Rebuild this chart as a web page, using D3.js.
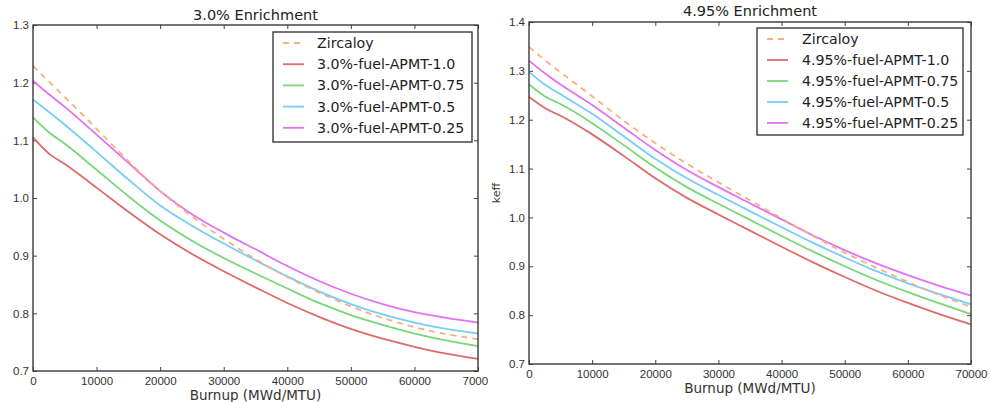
<!DOCTYPE html>
<html>
<head>
<meta charset="utf-8">
<title>keff vs Burnup</title>
<script src="https://cdn.jsdelivr.net/npm/d3@7/dist/d3.min.js"></script>
<style>
  body { margin: 0; background: #fff; }
  svg { display: block; font-family: "DejaVu Sans", sans-serif; }
  .axis text { fill: #333; font-size: 11.5px; }
  .axis line { stroke: #444; }
  .axis path { display: none; }
</style>
</head>
<body>
<script>
// burnup grid (MWd/MTU)
var burnup = [0, 2500, 5000, 10000, 15000, 20000, 25000, 30000, 35000, 40000, 45000, 50000, 55000, 60000, 65000, 70000];

// 3.0% enrichment
var zirc30     = [1.229, 1.202, 1.175, 1.120, 1.064, 1.012, 0.968, 0.929, 0.894, 0.863, 0.836, 0.812, 0.792, 0.776, 0.764, 0.755];
var apmt10_30  = [1.105, 1.077, 1.059, 1.018, 0.976, 0.937, 0.903, 0.873, 0.845, 0.818, 0.794, 0.773, 0.756, 0.742, 0.730, 0.721];
var apmt075_30 = [1.140, 1.114, 1.094, 1.049, 1.003, 0.961, 0.926, 0.896, 0.869, 0.843, 0.818, 0.797, 0.780, 0.765, 0.753, 0.743];
var apmt05_30  = [1.171, 1.149, 1.127, 1.080, 1.032, 0.987, 0.952, 0.921, 0.892, 0.864, 0.838, 0.816, 0.798, 0.784, 0.773, 0.765];
var apmt025_30 = [1.203, 1.180, 1.158, 1.110, 1.061, 1.012, 0.972, 0.940, 0.911, 0.882, 0.856, 0.834, 0.816, 0.802, 0.792, 0.784];

// 4.95% enrichment
var zirc495     = [1.349, 1.322, 1.297, 1.248, 1.198, 1.152, 1.110, 1.072, 1.035, 0.998, 0.962, 0.928, 0.897, 0.868, 0.841, 0.817];
var apmt10_495  = [1.247, 1.224, 1.208, 1.170, 1.126, 1.080, 1.040, 1.006, 0.973, 0.940, 0.908, 0.878, 0.850, 0.825, 0.802, 0.781];
var apmt075_495 = [1.272, 1.248, 1.232, 1.193, 1.148, 1.102, 1.062, 1.028, 0.995, 0.962, 0.930, 0.900, 0.872, 0.847, 0.824, 0.802];
var apmt05_495  = [1.298, 1.272, 1.252, 1.212, 1.166, 1.120, 1.080, 1.046, 1.013, 0.980, 0.948, 0.918, 0.890, 0.865, 0.843, 0.822];
var apmt025_495 = [1.321, 1.295, 1.272, 1.230, 1.184, 1.138, 1.097, 1.062, 1.029, 0.996, 0.963, 0.933, 0.906, 0.882, 0.860, 0.840];

var xTicks = [0, 10000, 20000, 30000, 40000, 50000, 60000, 70000];
var yTicks30 = [0.7, 0.8, 0.9, 1.0, 1.1, 1.2, 1.3];
var yTicks495 = [0.7, 0.8, 0.9, 1.0, 1.1, 1.2, 1.3, 1.4];

var names30 = ["Zircaloy", "3.0%-fuel-APMT-1.0", "3.0%-fuel-APMT-0.75", "3.0%-fuel-APMT-0.5", "3.0%-fuel-APMT-0.25"];
var names495 = ["Zircaloy", "4.95%-fuel-APMT-1.0", "4.95%-fuel-APMT-0.75", "4.95%-fuel-APMT-0.5", "4.95%-fuel-APMT-0.25"];

var colors = ["#f9ae80", "#e06a6a", "#78d878", "#78cdf8", "#e272f2"];
var dashes = ["6,5", null, null, null, null];

var W = 990, H = 402;
var svg = d3.select("body").append("svg").attr("width", W).attr("height", H);
svg.append("rect").attr("width", W).attr("height", H).attr("fill", "#fff");

function panel(o) {
  var g = svg.append("g");
  // white background of the panel image
  g.append("rect").attr("x", o.bgX).attr("y", 0).attr("width", o.bgW).attr("height", H).attr("fill", "#fff");

  var x = d3.scaleLinear().domain([0, 70000]).range([o.left, o.right]);
  var y = d3.scaleLinear().domain(o.yDomain).range([o.bottom, o.top]);

  g.append("g").attr("class", "axis")
    .attr("transform", "translate(0," + o.bottom + ")")
    .call(d3.axisBottom(x).tickValues(xTicks).tickSize(-4).tickPadding(6).tickFormat(d3.format("d")));
  g.append("g").attr("class", "axis")
    .attr("transform", "translate(0," + o.top + ")")
    .call(d3.axisTop(x).tickValues(xTicks).tickSize(-4).tickFormat(""));
  g.append("g").attr("class", "axis")
    .attr("transform", "translate(" + o.left + ",0)")
    .call(d3.axisLeft(y).tickValues(o.yTicks).tickSize(-4).tickPadding(4).tickFormat(d3.format(".1f")));
  g.append("g").attr("class", "axis")
    .attr("transform", "translate(" + o.right + ",0)")
    .call(d3.axisRight(y).tickValues(o.yTicks).tickSize(-4).tickFormat(""));

  var line = d3.line()
    .x(function(d, i) { return x(burnup[i]); })
    .y(function(d) { return y(d); })
    .curve(d3.curveMonotoneX);

  // draw Zircaloy last so the dashes sit on top
  var order = [1, 2, 3, 4, 0];
  order.forEach(function(k) {
    g.append("path")
      .datum(o.series[k])
      .attr("fill", "none")
      .attr("stroke", colors[k])
      .attr("stroke-width", 1.8)
      .attr("stroke-dasharray", dashes[k])
      .attr("d", line);
  });

  g.append("rect")
    .attr("x", o.left).attr("y", o.top)
    .attr("width", o.right - o.left).attr("height", o.bottom - o.top)
    .attr("fill", "none").attr("stroke", "#3a3a3a").attr("stroke-width", 1.4);

  g.append("text")
    .attr("x", (o.left + o.right) / 2).attr("y", o.titleY)
    .attr("text-anchor", "middle").attr("font-size", "14.5px").attr("fill", "#222")
    .text(o.title);

  g.append("text")
    .attr("x", (o.left + o.right) / 2).attr("y", o.xLabelY)
    .attr("text-anchor", "middle").attr("font-size", "13.5px").attr("fill", "#333")
    .text("Burnup (MWd/MTU)");

  if (o.yLabel) {
    g.append("text")
      .attr("transform", "translate(" + o.yLabelX + "," + ((o.top + o.bottom) / 2) + ") rotate(-90)")
      .attr("text-anchor", "middle").attr("font-size", "11px").attr("fill", "#333")
      .text(o.yLabel);
  }

  // legend
  var lg = g.append("g");
  lg.append("rect")
    .attr("x", o.leg.x).attr("y", o.leg.y).attr("width", o.leg.w).attr("height", o.leg.h)
    .attr("fill", "#fff").attr("stroke", "#3a3a3a").attr("stroke-width", 1.4);
  o.names.forEach(function(n, k) {
    var yy = o.leg.y + o.leg.first + k * o.leg.step;
    lg.append("line")
      .attr("x1", o.leg.x + o.leg.lx0).attr("x2", o.leg.x + o.leg.lx1)
      .attr("y1", yy).attr("y2", yy)
      .attr("stroke", colors[k]).attr("stroke-width", 1.8)
      .attr("stroke-dasharray", dashes[k]);
    lg.append("text")
      .attr("x", o.leg.x + o.leg.tx).attr("y", yy).attr("dy", "0.35em")
      .attr("font-size", "14.2px").attr("fill", "#222")
      .text(n);
  });
}

panel({
  bgX: 0, bgW: 488,
  left: 33, right: 478, top: 25, bottom: 371,
  yDomain: [0.7, 1.3], yTicks: yTicks30,
  series: [zirc30, apmt10_30, apmt075_30, apmt05_30, apmt025_30],
  names: names30,
  title: "3.0% Enrichment", titleY: 20,
  xLabelY: 400,
  leg: { x: 273, y: 32, w: 199, h: 110, first: 11, step: 21.2, lx0: 10, lx1: 31, tx: 44 }
});

panel({
  bgX: 488, bgW: 502,
  left: 529, right: 971, top: 22, bottom: 364,
  yDomain: [0.7, 1.4], yTicks: yTicks495,
  series: [zirc495, apmt10_495, apmt075_495, apmt05_495, apmt025_495],
  names: names495,
  title: "4.95% Enrichment", titleY: 16,
  xLabelY: 393,
  yLabel: "keff", yLabelX: 500,
  leg: { x: 757, y: 28, w: 206, h: 107, first: 11, step: 21, lx0: 10, lx1: 31, tx: 45 }
});
</script>
</body>
</html>
